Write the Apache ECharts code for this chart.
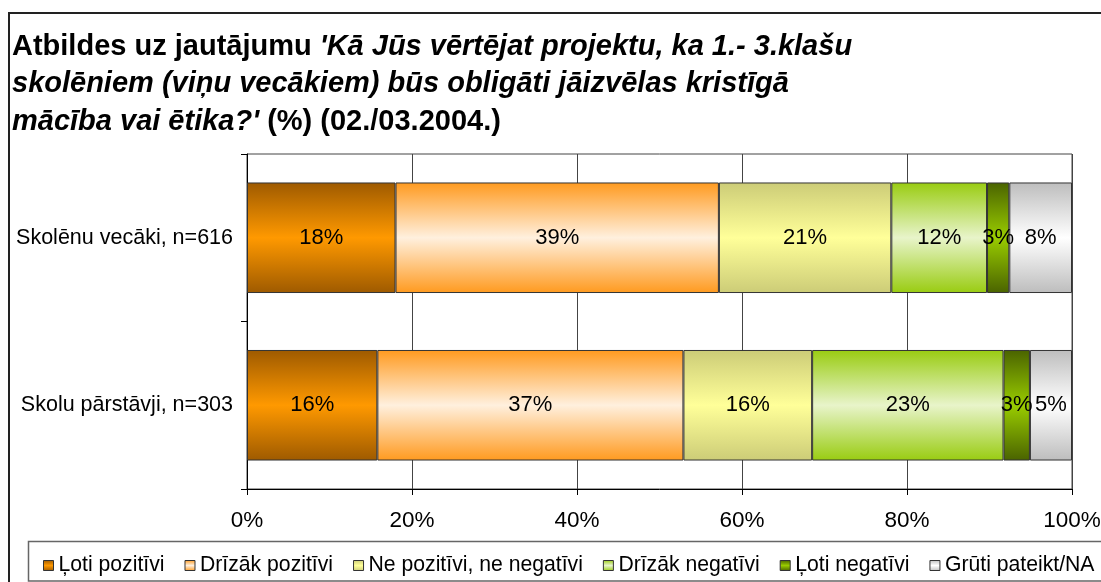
<!DOCTYPE html>
<html>
<head>
<meta charset="utf-8">
<script src="https://cdn.jsdelivr.net/npm/echarts@6/dist/echarts.min.js"></script>
<style>html,body{margin:0;padding:0;background:#fff}#c{width:1101px;height:582px}</style>
</head>
<body>
<div id="c"></div>
<script>
const categories = ['Skolēnu vecāki, n=616', 'Skolu pārstāvji, n=303'];
const seriesNames = ['Ļoti pozitīvi', 'Drīzāk pozitīvi', 'Ne pozitīvi, ne negatīvi', 'Drīzāk negatīvi', 'Ļoti negatīvi', 'Grūti pateikt/NA'];
const lotiPozitivi = [18.0, 15.8];
const drizakPozitivi = [39.2, 37.1];
const nePozNeNeg = [20.9, 15.6];
const drizakNegativi = [11.6, 23.2];
const lotiNegativi = [2.7, 3.2];
const grutiPateikt = [7.6, 5.1];
const xTicks = [0, 20, 40, 60, 80, 100];
const titleLines = [
  ['Atbildes uz jautājumu ', "'Kā Jūs vērtējat projektu, ka 1.- 3.klašu"],
  ['', 'skolēniem (viņu vecākiem) būs obligāti jāizvēlas kristīgā'],
  ['', "mācība vai ētika?'", ' (%) (02./03.2004.)']
];

const FONT = '"Liberation Sans", Arial, sans-serif';
const gradients = [
  ['#9E5A00', '#FF9900'],
  ['#FF9A1F', '#FFF0DE'],
  ['#CCCC77', '#FFFF99'],
  ['#99CC11', '#E8F4CA'],
  ['#4A6300', '#99CC00'],
  ['#BDBDBD', '#FFFFFF']
];
function grad(pair) {
  return new echarts.graphic.LinearGradient(0, 0, 0, 1, [
    { offset: 0, color: pair[0] },
    { offset: 0.5, color: pair[1] },
    { offset: 1, color: pair[0] }
  ]);
}
const allData = [lotiPozitivi, drizakPozitivi, nePozNeNeg, drizakNegativi, lotiNegativi, grutiPateikt];

let titleText = titleLines.map(l => {
  let s = '';
  if (l[0]) s += '{b|' + l[0] + '}';
  if (l[1]) s += '{bi|' + l[1] + '}';
  if (l[2]) s += '{b|' + l[2] + '}';
  return s;
}).join('\n');

const chart = echarts.init(document.getElementById('c'), null, { renderer: 'canvas' });
chart.setOption({
  animation: false,
  backgroundColor: '#fff',
  title: {
    left: 7, top: 23,
    text: titleText,
    textStyle: {
      rich: {
        b: { fontFamily: FONT, fontSize: 29, fontWeight: 'bold', color: '#000', lineHeight: 37.5 },
        bi: { fontFamily: FONT, fontSize: 29, fontWeight: 'bold', fontStyle: 'italic', color: '#000', lineHeight: 37.5 }
      }
    }
  },
  graphic: [
    { type: 'rect', shape: { x: 9, y: 13, width: 1200, height: 700 }, style: { fill: 'none', stroke: '#222', lineWidth: 2 }, z: 0 },
    { type: 'rect', shape: { x: 28.5, y: 541.5, width: 1200, height: 39.5 }, style: { fill: 'none', stroke: '#666', lineWidth: 1.5 }, z: 0 }
  ],
  legend: {
    left: 38, top: 550, width: 1400,
    itemWidth: 10, itemHeight: 10, itemGap: 20,
    icon: 'rect',
    data: seriesNames,
    textStyle: { fontFamily: FONT, fontSize: 21.2, color: '#000' },
    itemStyle: { borderColor: '#333', borderWidth: 1 }
  },
  grid: { left: 247, right: 29, top: 154, bottom: 93, show: true, borderColor: '#444', borderWidth: 1, outerBoundsMode: 'none', containLabel: false },
  xAxis: {
    type: 'value', min: 0, max: 100, interval: 20,
    axisLine: { show: true, lineStyle: { color: '#000' } },
    axisTick: { show: true, length: 6, lineStyle: { color: '#000' } },
    splitLine: { show: true, lineStyle: { color: '#444', width: 1 } },
    axisLabel: { margin: 20, fontFamily: FONT, fontSize: 22.5, color: '#000', formatter: v => xTicks.includes(v) ? v + '%' : '' }
  },
  yAxis: {
    type: 'category', data: categories, inverse: true,
    axisLine: { show: true, lineStyle: { color: '#000' } },
    axisTick: { show: true, length: 6, lineStyle: { color: '#000' } },
    axisLabel: { margin: 14, fontFamily: FONT, fontSize: 21.5, color: '#000' }
  },
  series: allData.map((d, i) => ({
    name: seriesNames[i],
    type: 'bar',
    stack: 'total',
    barWidth: '66%',
    data: d,
    itemStyle: { color: grad(gradients[i]), borderColor: '#333', borderWidth: 1 },
    label: {
      show: true, position: 'inside', fontFamily: FONT, fontSize: 22, color: '#000',
      formatter: p => Math.round(p.value) + '%'
    }
  }))
});
</script>
</body>
</html>
